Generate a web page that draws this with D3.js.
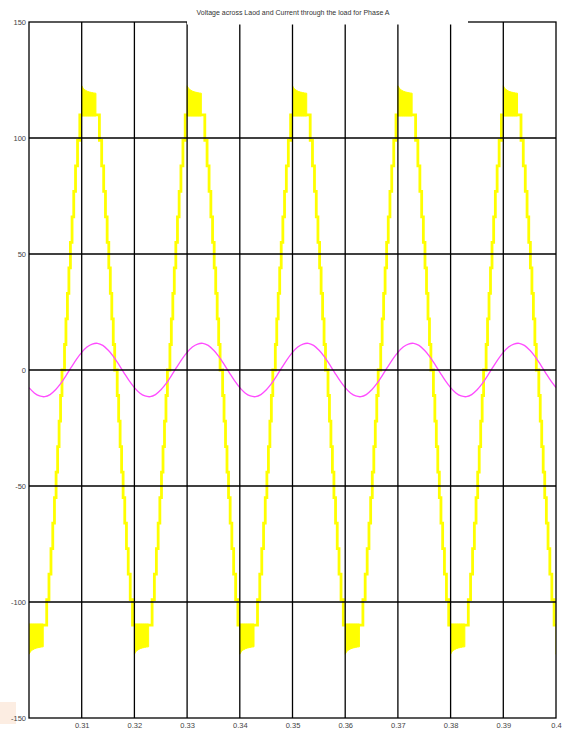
<!DOCTYPE html>
<html>
<head>
<meta charset="utf-8">
<script src="https://cdn.jsdelivr.net/npm/d3@7"></script>
<style>
  html, body { margin: 0; padding: 0; background: #fff; }
  svg { display: block; font-family: "Liberation Sans", Arial, sans-serif; }
</style>
</head>
<body>
<div id="scope"></div>
<script>
// Values
const titleText = 'Voltage across Laod and Current through the load for Phase A';
const xTicks = [0.31, 0.32, 0.33, 0.34, 0.35, 0.36, 0.37, 0.38, 0.39, 0.4];
const xTickLabels = ['0.31', '0.32', '0.33', '0.34', '0.35', '0.36', '0.37', '0.38', '0.39', '0.4'];
const yTicks = [150, 100, 50, 0, -50, -100, -150];
const yTickLabels = ['150', '100', '50', '0', '-50', '-100', '-150'];

// Load voltage: multilevel staircase. Centre time and polarity of each half-cycle.
const halfCentres = [0.3015, 0.3115, 0.3215, 0.3315, 0.3415, 0.3515, 0.3615, 0.3715, 0.3815, 0.3915, 0.4015];
const halfSigns = [-1, 1, -1, 1, -1, 1, -1, 1, -1, 1, -1];
const halfSpan = 0.005;
// step levels (V) and the distance from the half-cycle centre (s) where each level starts
const stepLevels = [0, 11, 22, 33, 44, 55, 66, 77, 88, 99, 110];
const stepEdges = [0.00476, 0.00449, 0.00421, 0.00393, 0.00364, 0.00333, 0.00301, 0.00267, 0.00229, 0.00186];
// switching ripple on the top level: offsets from centre (s) and outer envelope (V)
const rippleOffsets = [-0.0015, -0.0012, -0.0008, -0.0004, 0, 0.0004, 0.0008, 0.0012];
const rippleTop = [122.5, 121.4, 120.6, 120.1, 119.8, 119.6, 119.4, 119.3];
const rippleBase = 109.5;

// Load current: one cycle read every 1 ms from t = 0.300, it repeats every 20 ms
const currentStart = 0.300;
const currentStep = 0.001;
const currentCycle = [-7.6, -9.9, -11.2, -11.5, -10.6, -8.6, -5.9, -2.5, 1.1, 4.6,
                      7.6, 9.9, 11.2, 11.5, 10.6, 8.6, 5.9, 2.5, -1.1, -4.6];
const currentSamples = 101;

(function () {
  'use strict';

  const width = 562, height = 731;
  const left = 29, right = 556, top = 22, bottom = 718;

  const x = d3.scaleLinear().domain([0.30, 0.40]).range([left, right]);
  const y = d3.scaleLinear().domain([-150, 150]).range([bottom, top]);

  const svg = d3.select('#scope')
    .append('svg')
    .attr('width', width)
    .attr('height', height)
    .attr('viewBox', [0, 0, width, height]);

  svg.append('defs').append('clipPath').attr('id', 'plot-clip')
    .append('rect')
    .attr('x', left).attr('y', top)
    .attr('width', right - left).attr('height', bottom - top);

  // faint smudge in the bottom-left corner of the scan
  svg.append('rect')
    .attr('x', 0).attr('y', 702).attr('width', 16).attr('height', 22)
    .attr('fill', '#fbe6d6').attr('opacity', 0.7);

  // staircase voltage points
  const voltage = [];
  halfCentres.forEach((c, i) => {
    const s = halfSigns[i];
    voltage.push([c - halfSpan, 0]);
    stepEdges.forEach((e, k) => {
      voltage.push([c - e, s * stepLevels[k]], [c - e, s * stepLevels[k + 1]]);
    });
    for (let k = stepEdges.length - 1; k >= 0; k--) {
      voltage.push([c + stepEdges[k], s * stepLevels[k + 1]], [c + stepEdges[k], s * stepLevels[k]]);
    }
    voltage.push([c + halfSpan, 0]);
  });

  const ripples = halfCentres.map((c, i) =>
    rippleOffsets.map((o, j) => ({ t: c + o, v0: halfSigns[i] * rippleBase, v1: halfSigns[i] * rippleTop[j] })));

  const current = d3.range(currentSamples).map(k => [currentStart + k * currentStep, currentCycle[k % currentCycle.length]]);

  const traces = svg.append('g').attr('clip-path', 'url(#plot-clip)');

  traces.append('path')
    .datum(voltage)
    .attr('fill', 'none')
    .attr('stroke', '#ffff00')
    .attr('stroke-width', 2.8)
    .attr('stroke-linejoin', 'miter')
    .attr('d', d3.line().x(d => x(d[0])).y(d => y(d[1])));

  const area = d3.area()
    .x(d => x(d.t)).y0(d => y(d.v0)).y1(d => y(d.v1))
    .curve(d3.curveMonotoneX);

  traces.selectAll('path.ripple')
    .data(ripples)
    .join('path')
    .attr('class', 'ripple')
    .attr('fill', '#ffff00')
    .attr('stroke', '#ffff00')
    .attr('stroke-width', 1)
    .attr('d', area);

  traces.append('path')
    .datum(current)
    .attr('fill', 'none')
    .attr('stroke', '#ff4cff')
    .attr('stroke-width', 1.3)
    .attr('d', d3.line().x(d => x(d[0])).y(d => y(d[1])).curve(d3.curveCatmullRom));

  // grid on top of the traces, like the scope
  const grid = svg.append('g').attr('stroke', '#000').attr('stroke-width', 1.3);
  grid.selectAll('line.vx')
    .data(xTicks.slice(0, -1))
    .join('line')
    .attr('class', 'vx')
    .attr('x1', d => x(d)).attr('x2', d => x(d))
    .attr('y1', top).attr('y2', bottom);
  grid.selectAll('line.hy')
    .data(yTicks.slice(1, -1))
    .join('line')
    .attr('class', 'hy')
    .attr('x1', left).attr('x2', right)
    .attr('y1', d => y(d)).attr('y2', d => y(d));

  svg.append('rect')
    .attr('x', left).attr('y', top)
    .attr('width', right - left).attr('height', bottom - top)
    .attr('fill', 'none')
    .attr('stroke', '#000')
    .attr('stroke-width', 1.3);

  // tick labels
  const yAxis = svg.append('g')
    .attr('transform', `translate(${left},0)`)
    .call(d3.axisLeft(y).tickValues(yTicks).tickFormat((d, i) => yTickLabels[i]).tickSize(0).tickPadding(3));
  const xAxis = svg.append('g')
    .attr('transform', `translate(0,${bottom})`)
    .call(d3.axisBottom(x).tickValues(xTicks).tickFormat((d, i) => xTickLabels[i]).tickSize(0).tickPadding(5));
  [yAxis, xAxis].forEach(a => {
    a.select('.domain').remove();
    a.selectAll('text')
      .attr('font-size', 7.5)
      .attr('font-family', '"Liberation Sans", Arial, sans-serif')
      .attr('fill', '#444');
  });

  // title box hides part of the top frame
  svg.append('rect')
    .attr('x', 187).attr('y', 0).attr('width', 281).attr('height', 24.5)
    .attr('fill', '#fff');
  svg.append('text')
    .attr('x', 293).attr('y', 15)
    .attr('text-anchor', 'middle')
    .attr('font-size', 7)
    .attr('fill', '#333')
    .text(titleText);
})();
</script>
</body>
</html>
